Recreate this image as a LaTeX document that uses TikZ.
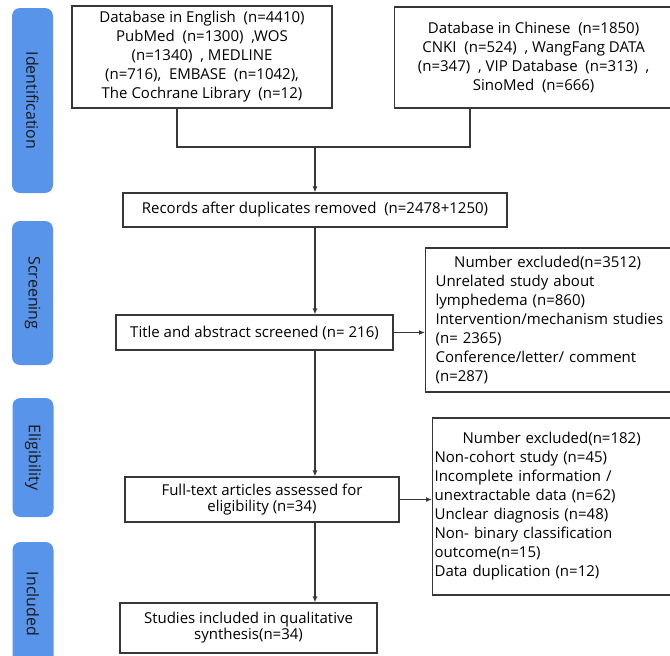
\documentclass[tikz,border=0pt]{standalone}
\usepackage{fontspec}
\setmainfont{Open Sans}
\usetikzlibrary{arrows.meta}
\definecolor{stagebar}{RGB}{88,148,234}
\definecolor{boxline}{RGB}{55,55,55}
\begin{document}
\begin{tikzpicture}[x=1pt,y=-1pt]
            \tikzstyle{box}=[draw=boxline,line width=1.2pt,inner sep=2pt,align=center,font=\fontsize{15}{19}\selectfont]
            \tikzstyle{excl}=[box,anchor=west,align=left,inner xsep=10pt]
            \tikzstyle{stage}=[fill=stagebar,rounded corners=8pt,minimum height=41pt,text=black!90,font=\fontsize{16}{18}\selectfont,rotate=-90]
            \tikzstyle{line}=[draw=boxline,line width=1.2pt]
            \tikzstyle{arrow}=[line,-{Latex[length=6pt,width=5pt]}]
            \useasboundingbox (0,0) rectangle (670,656);
            \clip (0,0) rectangle (670,656);
            \fill[white] (0,0) rectangle (670,656);
            \node[stage,minimum width=185pt] (ident) at (32.5,100.5) {Identification};
            \node[stage,minimum width=144pt] (screen) at (32.5,293) {Screening};
            \node[stage,minimum width=119pt] (elig) at (33,457.5) {Eligibility};
            \node[stage,minimum width=124pt] (incl) at (33,604) {Included};
            \node[box,minimum width=260pt,minimum height=102pt] (eng) at (202,57)
                {Database in English\ \ (n=4410)\\ PubMed\ \ (n=1300)\ \ ,WOS\\ (n=1340)\ \ , MEDLINE\\ (n=716),\ \ EMBASE\ \ (n=1042),\\ The Cochrane Library\ \ (n=12)};
            \node[box,anchor=west,minimum width=278pt,minimum height=101pt] (chn) at (394,57.5)
                {Database in Chinese\ \ (n=1850)\\ CNKI\ \ (n=524)\ \ , WangFang DATA\\ (n=347)\ \ , VIP Database\ \ (n=313)\ \ ,\\ SinoMed\ \ (n=666)};
            \node[box,minimum width=384pt,minimum height=34pt] (rec) at (315,210) {Records after duplicates removed\ \ (n=2478+1250)};
            \node[box,minimum width=277pt,minimum height=35pt] (tit) at (254.5,332.5) {Title and abstract screened (n= 216)};
            \node[box,minimum width=274pt,minimum height=45pt] (full) at (262,499.5) {Full-text articles assessed for\\[-3pt] eligibility (n=34)};
            \node[box,minimum width=257pt,minimum height=50pt] (stud) at (248.5,628) {Studies included in qualitative\\[-3pt] synthesis(n=34)};
            \node[excl,text width=238pt,minimum height=144pt] (ex1) at (425,320)
                {\noindent\makebox[224pt][c]{Number excluded(n=3512)}\\ Unrelated study about\\ lymphedema (n=860)\\ Intervention/mechanism studies\\ (n= 2365)\\ Conference/letter/ comment\\ (n=287)};
            \node[excl,inner xsep=2pt,text width=234pt,minimum height=177pt] (ex2) at (432,506.5)
                {\noindent\makebox[234pt][c]{Number excluded(n=182)}\\ Non-cohort study (n=45)\\ Incomplete information /\\ unextractable data (n=62)\\ Unclear diagnosis (n=48)\\ Non- binary classification\\ outcome(n=15)\\ Data duplication (n=12)};
            \coordinate (engdrop) at (177,147);
            \coordinate (chndrop) at (470,147);
            \coordinate (join) at (315,147);
            \draw[line] (engdrop |- eng.south) -- (engdrop) -- (chndrop) -- (chndrop |- chn.south);
            \draw[arrow] (join) -- (rec.north);
            \draw[arrow] (rec.south) -- (rec.south |- tit.north);
            \draw[arrow] (tit.east) -- (tit.east -| ex1.west);
            \draw[arrow] (rec.south |- tit.south) -- (rec.south |- full.north);
            \draw[arrow] (full.east) -- (full.east -| ex2.west);
            \draw[arrow] (rec.south |- full.south) -- (rec.south |- stud.north);
\end{tikzpicture}
\end{document}
